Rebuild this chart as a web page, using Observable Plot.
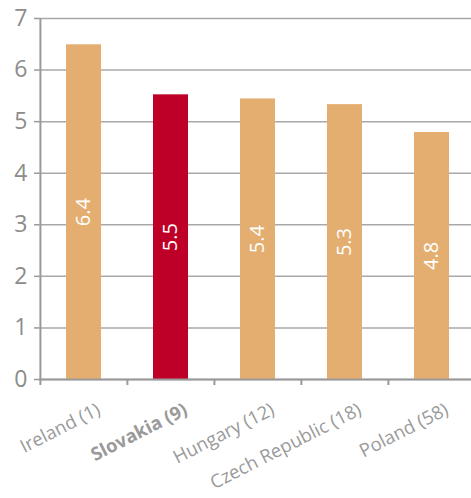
<!DOCTYPE html>
<html><head><meta charset="utf-8">
<script src="https://cdn.jsdelivr.net/npm/d3@7"></script>
<script src="https://cdn.jsdelivr.net/npm/@observablehq/plot@0.6"></script>
<style>
html,body{margin:0;padding:0;background:#fff;}
</style>
</head><body>
<div id="chart"></div>
<script>
const categories = ["Ireland (1)", "Slovakia (9)", "Hungary (12)", "Czech Republic (18)", "Poland (58)"];
const values = [6.49, 5.52, 5.44, 5.33, 4.79];
const valueLabels = ["6.4", "5.5", "5.4", "5.3", "4.8"];
const highlight = "Slovakia (9)";
const yTicks = [0, 1, 2, 3, 4, 5, 6, 7];

const data = categories.map((c, i) => ({cat: c, value: values[i], label: valueLabels[i]}));

const W = 471, H = 498;
const xRange = [39, 475];
const step = (xRange[1] - xRange[0]) / categories.length;
const font = "'Open Sans', Lato, sans-serif";
const gray = "#8c8c8c";

const chart = Plot.plot({
  width: W, height: H,
  marginLeft: 39, marginRight: 0, marginTop: 18, marginBottom: 119,
  style: {fontFamily: font, background: "#fff"},
  x: {domain: categories, range: xRange, padding: 0, label: null},
  y: {domain: [0, 7], ticks: yTicks, label: null},
  marks: [
    Plot.gridY(yTicks, {stroke: "#a8a8a8", strokeOpacity: 1, strokeWidth: 1.5}),
    Plot.barY(data, {x: "cat", y: "value", fill: d => d.cat === highlight ? "#BE0028" : "#E4AE70", insetLeft: 26, insetRight: 26}),
    Plot.axisY(yTicks, {tickSize: 5, tickPadding: 7, fontSize: 23, color: gray, stroke: "#999", strokeWidth: 1.5, tickFormat: "d", label: null}),
    Plot.ruleX([categories[0]], {dx: -step / 2, y1: 0, y2: 7, stroke: "#999", strokeWidth: 2}),
    Plot.ruleY([0], {stroke: "#999", strokeWidth: 2}),
    Plot.axisX({tickSize: 6, dx: -step / 2, tickFormat: () => "", stroke: "#999", strokeWidth: 2, label: null}),
    Plot.text(data, {x: "cat", y: d => d.value / 2, text: "label", rotate: -90, fill: "white", fontSize: 20}),
    Plot.text(data.filter(d => d.cat !== highlight), {x: "cat", y: 0, text: "cat", rotate: -27, textAnchor: "end", dx: 15, dy: 29, fill: "#9a9a9a", fontSize: 18.5}),
    Plot.text(data.filter(d => d.cat === highlight), {x: "cat", y: 0, text: "cat", rotate: -27, textAnchor: "end", dx: 15, dy: 29, fill: "#9a9a9a", fontSize: 18.5, fontWeight: "bold"})
  ]
});
document.getElementById("chart").appendChild(chart);
</script>
</body></html>
